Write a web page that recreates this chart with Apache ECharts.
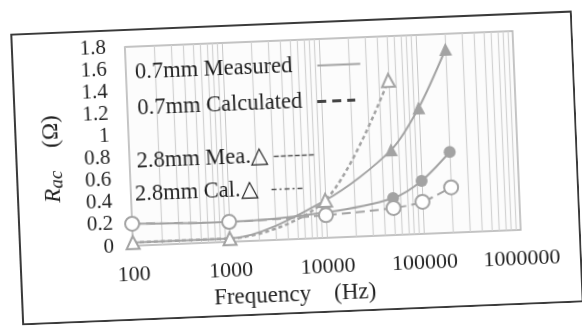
<!DOCTYPE html>
<html>
<head>
<meta charset="utf-8">
<script src="https://cdn.jsdelivr.net/npm/echarts@6/dist/echarts.min.js"></script>
<style>
  html, body { margin: 0; background: #fff; }
  #chart { position: absolute; left: 16px; top: 22px; width: 562px; height: 292px; transform: rotate(-2.35deg); }
</style>
</head>
<body>
<div id="chart"></div>
<script>
// frequency points (Hz)
const frequencies = [100, 1000, 10000, 50000, 100000, 200000];
// Rac values (ohm)
const measured07 = [0.03, 0.03, 0.34, 0.77, 1.14, 1.66];
const calculated07 = [0.03, 0.03, 0.34, 1.40];
const measured28 = [0.2, 0.18, 0.23, 0.335, 0.48, 0.73];
const calculated28 = [0.2, 0.18, 0.205, 0.245, 0.29, 0.41];
const seriesNames = ['0.7mm Measured', '0.7mm Calculated', '2.8mm Mea.', '2.8mm Cal.'];
const xRange = [100, 1000000];
const yRange = [0, 1.8];

const serif = 'Liberation Serif';
const ink = '#1f1f1f';
const grey = '#a3a3a3';

// log minor grid positions (2..9 in every decade)
const minorFreqs = [];
for (let d = xRange[0]; d < xRange[1]; d *= 10) {
  for (let k = 2; k <= 9; k++) minorFreqs.push(d * k);
}

const pairs = (ys) => ys.map((y, i) => [frequencies[i], y]);

const chart = echarts.init(document.getElementById('chart'));

const legendBase = {
  orient: 'horizontal',
  align: 'right',
  padding: 0,
  itemHeight: 14,
  selectedMode: false,
  itemStyle: { opacity: 0 },
  textStyle: { fontFamily: serif, fontSize: 22.5, color: ink }
};

chart.setOption({
  animation: false,
  backgroundColor: '#fff',
  graphic: [{
    type: 'rect',
    shape: { x: 1, y: 1, width: 560, height: 290 },
    style: { fill: 'none', stroke: '#3a3a3a', lineWidth: 2 },
    z: 100
  }],
  grid: {
    left: 114, top: 18, right: 60, bottom: 75,
    show: true, backgroundColor: '#fcfcfc', borderColor: '#b0b0b0', borderWidth: 1.5
  },
  legend: [
    { ...legendBase, data: [seriesNames[0]], left: 123, top: 33, itemWidth: 43,
      lineStyle: { color: grey, width: 2, type: 'solid' },
      textStyle: { ...legendBase.textStyle, padding: [0, 20, 0, 0] } },
    { ...legendBase, data: [seriesNames[1]], left: 124, top: 69, itemWidth: 38,
      lineStyle: { color: '#444', width: 3, type: [9, 6] },
      textStyle: { ...legendBase.textStyle, padding: [0, 10, 0, 0] } },
    { ...legendBase, data: [seriesNames[2]], left: 121, top: 122, itemWidth: 40,
      formatter: (n) => n + '△',
      lineStyle: { color: '#555', width: 1.5, type: [5, 2] } },
    { ...legendBase, data: [seriesNames[3]], left: 118, top: 155, itemWidth: 32,
      formatter: (n) => n + '△',
      lineStyle: { color: '#555', width: 1.5, type: [5, 3, 2, 3] },
      textStyle: { ...legendBase.textStyle, padding: [0, 8, 0, 0] } }
  ],
  xAxis: {
    type: 'log',
    logBase: 10,
    min: xRange[0],
    max: xRange[1],
    name: 'Frequency    (Hz)',
    nameLocation: 'middle',
    nameGap: 43,
    nameTextStyle: { fontFamily: serif, fontSize: 23, color: ink, padding: [0, 68, 0, 0] },
    axisLine: { show: false },
    axisTick: { show: false },
    axisLabel: {
      fontFamily: serif, fontSize: 22, color: ink, margin: 18,
      formatter: (v) => String(Math.round(v))
    },
    splitLine: { show: true, lineStyle: { color: '#c8c8c8', width: 1 } }
  },
  yAxis: {
    type: 'value',
    min: yRange[0],
    max: yRange[1],
    interval: 0.2,
    name: '{r|R}{s|ac}    (Ω)',
    nameLocation: 'middle',
    nameGap: 64,
    nameTextStyle: {
      fontFamily: serif, fontSize: 23, color: ink, padding: [0, 19, 0, 0],
      rich: {
        r: { fontFamily: serif, fontStyle: 'italic', fontSize: 23, color: ink },
        s: { fontFamily: serif, fontStyle: 'italic', fontSize: 19, color: ink, padding: [8, 0, 0, 0] }
      }
    },
    axisLine: { show: false },
    axisTick: { show: false },
    splitLine: { show: false },
    axisLabel: { fontFamily: serif, fontSize: 21, color: ink, margin: 19 }
  },
  series: [
    {
      name: seriesNames[0], type: 'line', data: pairs(measured07), smooth: 0.3,
      symbol: 'triangle', symbolSize: 13,
      itemStyle: { color: grey },
      lineStyle: { color: grey, width: 2 },
      markLine: {
        silent: true, symbol: 'none', z: 1, animation: false,
        label: { show: false },
        lineStyle: { color: '#d2d2d2', type: 'solid', width: 1.2 },
        data: minorFreqs.map((f) => ({ xAxis: f }))
      }
    },
    {
      name: seriesNames[2], type: 'line', data: pairs(measured28), smooth: 0.3,
      symbol: 'circle', symbolSize: 12,
      itemStyle: { color: grey },
      lineStyle: { color: grey, width: 2 }
    },
    {
      name: seriesNames[1], type: 'line', data: pairs(calculated07), smooth: 0.3,
      symbol: 'emptyTriangle', symbolSize: 13,
      itemStyle: { color: grey, borderWidth: 2 },
      lineStyle: { color: grey, width: 2.5, type: [4, 3] }
    },
    {
      name: seriesNames[3], type: 'line', data: pairs(calculated28), smooth: 0.3,
      symbol: 'emptyCircle', symbolSize: 14,
      itemStyle: { color: grey, borderWidth: 2 },
      lineStyle: { color: grey, width: 2, type: [9, 5] }
    }
  ]
});
</script>
</body>
</html>
